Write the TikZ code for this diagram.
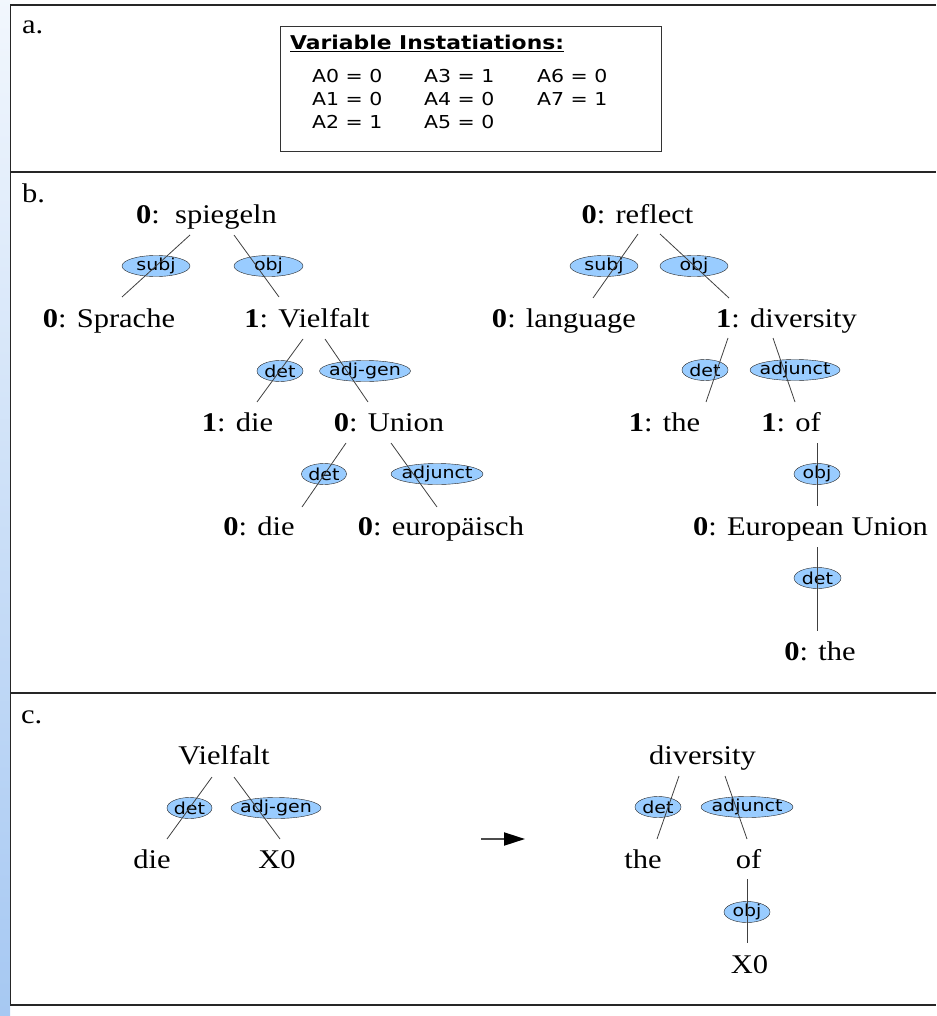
\documentclass[tikz,border=0pt]{standalone}
\usepackage{fontspec}
\setmainfont{Liberation Serif}[FakeStretch=1.13]
\newfontfamily\relfont{DejaVu Sans}[FakeStretch=1.15]
\usetikzlibrary{shapes.geometric,arrows.meta}
\definecolor{relblue}{RGB}{153,204,255}
\definecolor{stripblue}{RGB}{166,200,242}

\begin{document}
\begin{tikzpicture}[x=1pt,y=-1pt,
    word/.style={anchor=base,inner sep=0pt,font=\fontsize{27}{30}\selectfont},
    rel/.style={ellipse,draw=black!85,fill=relblue,inner xsep=-6pt,inner ysep=-3pt,minimum height=21pt,
      font=\relfont\fontsize{16.5}{17}\selectfont},
    asgn/.style={anchor=base west,inner sep=0pt,font=\relfont\fontsize{17.8}{18}\selectfont},
    edge/.style={draw=black!75,line width=0.8pt},
    frame/.style={draw=black!85,line width=1.4pt}]
    \useasboundingbox (0,0) rectangle (936,1016);
    \shade[top color=stripblue!15, bottom color=stripblue] (0,0) rectangle (10,1016);
    \draw[frame] (936,5) -- (10.5,5) -- (10.5,1005) -- (936,1005);
    \draw[frame] (10.5,172) -- (936,172);
    \draw[frame] (10.5,693) -- (936,693);

    \node[word, anchor=base west] (la) at (22,34) {a.};
    \node[word, anchor=base west] (lb) at (22,203) {b.};
    \node[word, anchor=base west] (lc) at (21,723) {c.};

    \node[draw=black!80, line width=0.9pt, minimum width=381, minimum height=125, anchor=north west, inner sep=0pt] (vbox) at (280,26) {};
    \node[anchor=base west, inner sep=0pt, font=\relfont\bfseries\fontsize{19}{20}\selectfont] (ttl) at (290,50) {\underline{Variable Instatiations:}};
    \node[asgn] (a0) at (312,83) {A0 = 0};
    \node[asgn] (a1) at (312,106) {A1 = 0};
    \node[asgn] (a2) at (312,129) {A2 = 1};
    \node[asgn] (a3) at (424,83) {A3 = 1};
    \node[asgn] (a4) at (424,106) {A4 = 0};
    \node[asgn] (a5) at (424,129) {A5 = 0};
    \node[asgn] (a6) at (537,83) {A6 = 0};
    \node[asgn] (a7) at (537,106) {A7 = 1};

    \node[word] (sp) at (206.5,223) {\textbf{0}:~~spiegeln};
    \node[word] (spr) at (109,327) {\textbf{0}: Sprache};
    \node[word] (vf) at (307,327) {\textbf{1}: Vielfalt};
    \node[word] (die1) at (237.5,431) {\textbf{1}: die};
    \node[word] (un) at (389,431) {\textbf{0}: Union};
    \node[word] (die0) at (259,535) {\textbf{0}: die};
    \node[word] (eur) at (441,535) {\textbf{0}: europäisch};

    \node[word] (rf) at (637.5,223) {\textbf{0}: reflect};
    \node[word] (lang) at (564,327) {\textbf{0}: language};
    \node[word] (dv) at (786.5,327) {\textbf{1}: diversity};
    \node[word] (the1) at (664.5,431) {\textbf{1}: the};
    \node[word] (of1) at (791,431) {\textbf{1}: of};
    \node[word] (eu) at (810.5,535) {\textbf{0}: European Union};
    \node[word] (the0) at (820,660) {\textbf{0}: the};

    \node[word] (cvf) at (224,764) {Vielfalt};
    \node[word] (cdie) at (152,868) {die};
    \node[word] (cx0) at (277,868) {X0};
    \node[word] (cdv) at (702.5,764) {diversity};
    \node[word] (cthe) at (643,868) {the};
    \node[word] (cof) at (748.5,868) {of};
    \node[word] (cx1) at (749.5,973) {X0};

    \node[rel, minimum width=68] (r1) at (156,266) {subj};
    \node[rel, minimum width=69] (r2) at (268.5,266) {obj};
    \node[rel, minimum width=46] (r3) at (280,371) {det};
    \node[rel, minimum width=91] (r4) at (365,371) {adj-gen};
    \node[rel, minimum width=45] (r5) at (324,474) {det};
    \node[rel, minimum width=92] (r6) at (437,474) {adjunct};
    \node[rel, minimum width=68] (r7) at (604,266) {subj};
    \node[rel, minimum width=68] (r8) at (694,266) {obj};
    \node[rel, minimum width=46] (r9) at (705,370) {det};
    \node[rel, minimum width=90] (r10) at (795,370) {adjunct};
    \node[rel, minimum width=46] (r11) at (817,474) {obj};
    \node[rel, minimum width=47] (r12) at (817.5,578) {det};
    \node[rel, minimum width=45] (r13) at (189.5,808) {det};
    \node[rel, minimum width=90] (r14) at (276,808) {adj-gen};
    \node[rel, minimum width=46] (r15) at (658,807) {det};
    \node[rel, minimum width=92] (r16) at (747,807) {adjunct};
    \node[rel, minimum width=46] (r17) at (747,912) {obj};

    \draw[edge] ([shift={(-16.5,12)}]sp.base) -- ([shift={(13,-30)}]spr.base);
    \draw[edge] ([shift={(27.5,12)}]sp.base) -- ([shift={(-28,-30)}]vf.base);
    \draw[edge] ([shift={(-4,12)}]vf.base) -- ([shift={(19.5,-29)}]die1.base);
    \draw[edge] ([shift={(18,12)}]vf.base) -- ([shift={(-21,-29)}]un.base);
    \draw[edge] ([shift={(-43,12)}]un.base) -- ([shift={(43,-28)}]die0.base);
    \draw[edge] ([shift={(2,12)}]un.base) -- ([shift={(-4,-28)}]eur.base);
    \draw[edge] ([shift={(0.5,11)}]rf.base) -- ([shift={(29,-29)}]lang.base);
    \draw[edge] ([shift={(22.5,11)}]rf.base) -- ([shift={(-57.5,-29)}]dv.base);
    \draw[edge] ([shift={(-58.5,11)}]dv.base) -- ([shift={(41.5,-29)}]the1.base);
    \draw[edge] ([shift={(-13.5,11)}]dv.base) -- ([shift={(4,-29)}]of1.base);
    \draw[edge] ([shift={(26,12)}]of1.base) -- ([shift={(6.5,-29)}]eu.base);
    \draw[edge] ([shift={(6.5,12)}]eu.base) -- ([shift={(-3,-29)}]the0.base);
    \draw[edge] ([shift={(-12,13)}]cvf.base) -- ([shift={(15,-29)}]cdie.base);
    \draw[edge] ([shift={(10,13)}]cvf.base) -- ([shift={(3,-29)}]cx0.base);
    \draw[edge] ([shift={(-23.5,12)}]cdv.base) -- ([shift={(14,-29)}]cthe.base);
    \draw[edge] ([shift={(22.5,12)}]cdv.base) -- ([shift={(-1.5,-29)}]cof.base);
    \draw[edge] ([shift={(-1.5,11)}]cof.base) -- ([shift={(-2.5,-30)}]cx1.base);

    \coordinate (ar0) at (481,839);
    \coordinate (ar1) at (525,839);
    \draw[draw=black!70, line width=2pt, -{Triangle[length=21pt,width=13pt,color=black]}] (ar0) -- (ar1);
\end{tikzpicture}
\end{document}
